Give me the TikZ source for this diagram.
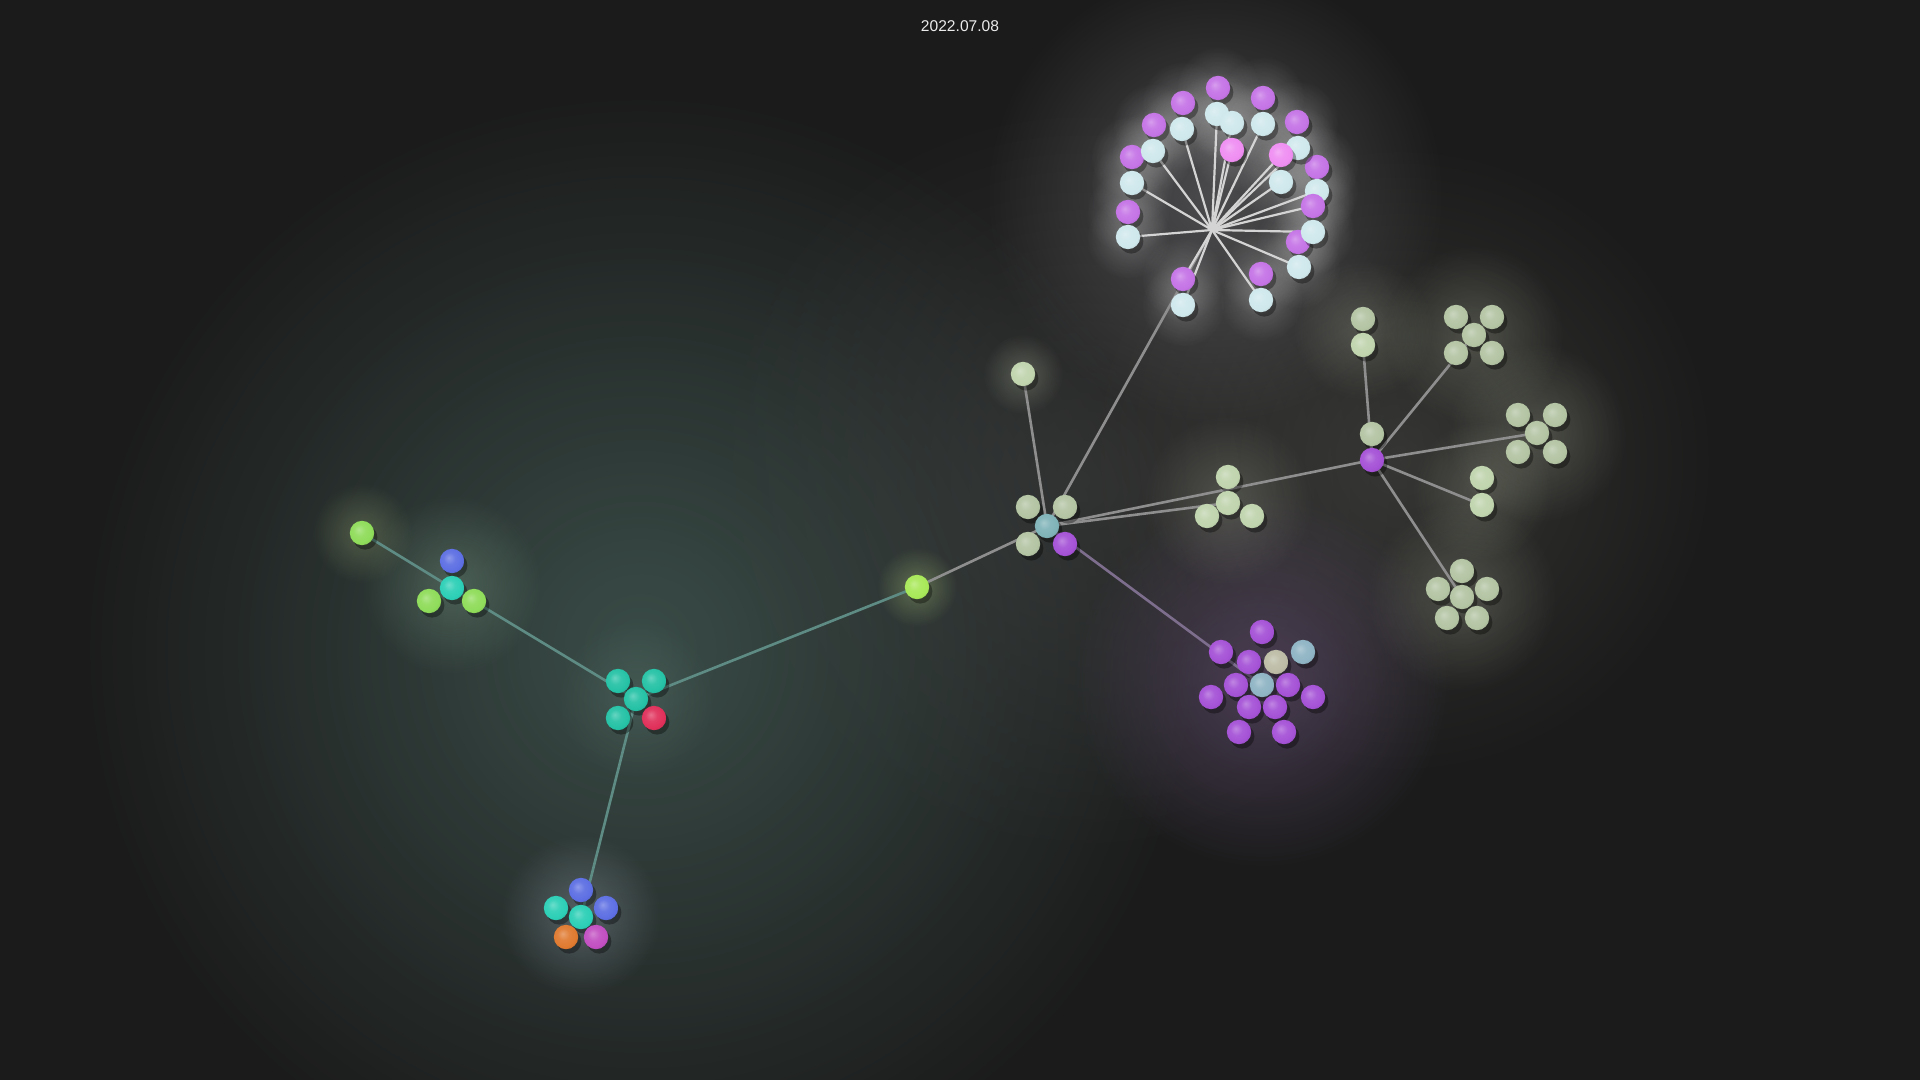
\documentclass[tikz,border=0pt]{standalone}
\usepackage{fontspec}
\setmainfont{Liberation Sans}
\usetikzlibrary{fadings}
\tikzfading[name=glowfade, inner color=transparent!0, outer color=transparent!100]
\pgfdeclarelayer{glowlayer}
\pgfdeclarelayer{edgelayer}
\pgfsetlayers{glowlayer,edgelayer,main}
\pgfdeclareradialshading[mballc]{mball}{\pgfqpoint{-7bp}{7bp}}{color(0bp)=(mballc!70!white); color(12bp)=(mballc!93!white); color(24bp)=(mballc); color(34bp)=(mballc!85!black); color(50bp)=(mballc!80!black)}
\definecolor{bgc}{HTML}{1B1B1B}
\definecolor{cPur}{HTML}{C574E6}
\definecolor{cLb}{HTML}{CFE8EC}
\definecolor{cPink}{HTML}{EF8EF2}
\definecolor{cSage}{HTML}{B3C4A3}
\definecolor{cPale}{HTML}{C0D4AE}
\definecolor{cHubC}{HTML}{7FB3B8}
\definecolor{cVio}{HTML}{A552D6}
\definecolor{cPLb}{HTML}{8FB4C4}
\definecolor{cBeige}{HTML}{BCBCA6}
\definecolor{cLime}{HTML}{8FDC5A}
\definecolor{cBlue}{HTML}{5D6FE3}
\definecolor{cTeal}{HTML}{2CCFB6}
\definecolor{cTeal2}{HTML}{25C2A6}
\definecolor{cRed}{HTML}{E0305A}
\definecolor{cOrange}{HTML}{E07A30}
\definecolor{cMag}{HTML}{C24FC2}
\definecolor{cYg}{HTML}{A8E858}
\definecolor{eTeal}{HTML}{5E8C84}
\definecolor{eGrey}{HTML}{8E8E8E}
\definecolor{eWhite}{HTML}{D4D4D4}
\definecolor{ePur}{HTML}{7E6E8E}
\definecolor{gTeal}{HTML}{4F6E66}
\definecolor{gGrey}{HTML}{444444}
\definecolor{gWarm}{HTML}{4A4A46}
\definecolor{gPur}{HTML}{5A4868}
\definecolor{gPale}{HTML}{D8E0C0}
\definecolor{gGreen}{HTML}{8FB89C}
\definecolor{gYel}{HTML}{C8D890}
\definecolor{gYg}{HTML}{D0F090}
\definecolor{gBlue}{HTML}{B8C4D8}
\definecolor{gTeal2}{HTML}{6E8A80}
\definecolor{gFlow}{HTML}{6A6A6E}
\tikzset{
  ballc/.code={\colorlet{mballc}{#1}},
  ball/.style={circle, inner sep=0pt, minimum size=12.2pt, ballc=#1, shade, shading=mball,
    preaction={fill=black, fill opacity=.35, transform canvas={shift={(1.6pt,-2.2pt)}}}},
  glow/.style={fill=#1, path fading=glowfade},
  edge/.style={line width=1.3pt, draw=#1},
}
\begin{document}
\begin{tikzpicture}[x=0.5pt,y=-0.5pt]
\useasboundingbox (0,0) rectangle (1920,1080);
\begin{pgfonlayer}{glowlayer}
  \fill[bgc] (0,0) rectangle (1920,1080);
  \fill[glow=gTeal, opacity=.6] (640,650) circle (560);
  \fill[glow=gGrey, opacity=.5] (1080,480) circle (380);
  \fill[glow=gWarm, opacity=.55] (1400,460) circle (320);
  \fill[glow=gPur, opacity=.7] (1262,680) circle (190);
  \fill[glow=gFlow, opacity=.6] (1215,195) circle (230);
  \fill[glow=gPale, opacity=.22] (1474,335) circle (90);
  \fill[glow=gPale, opacity=.22] (1537,433) circle (90);
  \fill[glow=gPale, opacity=.22] (1462,597) circle (95);
  \fill[glow=gPale, opacity=.2] (1482,490) circle (70);
  \fill[glow=gPale, opacity=.2] (1363,330) circle (70);
  \fill[glow=gPale, opacity=.2] (1228,500) circle (85);
  \fill[glow=gPale, opacity=.25] (1023,374) circle (40);
  \fill[glow=gGreen, opacity=.3] (452,585) circle (90);
  \fill[glow=gYel, opacity=.25] (362,533) circle (50);
  \fill[glow=gYg, opacity=.3] (917,587) circle (40);
  \fill[glow=gBlue, opacity=.3] (581,915) circle (80);
  \fill[glow=gTeal2, opacity=.25] (636,699) circle (80);
\end{pgfonlayer}

% left part
\node[ball=cLime] (lone) at (362,533) {};
\node[ball=cBlue] (l1) at (452,561) {};
\node[ball=cTeal] (lc) at (452,588) {};
\node[ball=cLime] (l2) at (429,601) {};
\node[ball=cLime] (l3) at (474,601) {};

\node[ball=cTeal2] (m1) at (618,681) {};
\node[ball=cTeal2] (m2) at (654,681) {};
\node[ball=cTeal2] (mc) at (636,699) {};
\node[ball=cTeal2] (m3) at (618,718) {};
\node[ball=cRed] (m4) at (654,718) {};

\node[ball=cBlue] (b1) at (581,890) {};
\node[ball=cTeal] (b2) at (556,908) {};
\node[ball=cBlue] (b3) at (606,908) {};
\node[ball=cTeal] (bc) at (581,917) {};
\node[ball=cOrange] (b4) at (566,937) {};
\node[ball=cMag] (b5) at (596,937) {};

\node[ball=cYg] (yg) at (917,587) {};

% hub
\node[ball=cPale] (tg) at (1023,374) {};
\node[ball=cSage] (h1) at (1028,507) {};
\node[ball=cSage] (h2) at (1065,507) {};
\node[ball=cSage] (h3) at (1028,544) {};
\node[ball=cHubC] (hc) at (1047,526) {};
\node[ball=cVio] (h4) at (1065,544) {};

% cluster near hub
\node[ball=cPale] (k1) at (1228,477) {};
\node[ball=cPale] (kc) at (1228,503) {};
\node[ball=cPale] (k2) at (1207,516) {};
\node[ball=cPale] (k3) at (1252,516) {};

% purple hub and satellites
\node[ball=cSage] (pa) at (1372,434) {};
\node[ball=cVio] (ph) at (1372,460) {};
\node[ball=cSage] (q1) at (1363,319) {};
\node[ball=cPale] (q2) at (1363,345) {};
\node[ball=cSage] (r1) at (1456,317) {};
\node[ball=cSage] (r2) at (1492,317) {};
\node[ball=cSage] (rc) at (1474,335) {};
\node[ball=cSage] (r3) at (1456,353) {};
\node[ball=cSage] (r4) at (1492,353) {};
\node[ball=cSage] (s1) at (1518,415) {};
\node[ball=cSage] (s2) at (1555,415) {};
\node[ball=cSage] (sc) at (1537,433) {};
\node[ball=cSage] (s3) at (1518,452) {};
\node[ball=cSage] (s4) at (1555,452) {};
\node[ball=cPale] (t1) at (1482,478) {};
\node[ball=cPale] (t2) at (1482,505) {};
\node[ball=cSage] (u1) at (1462,571) {};
\node[ball=cSage] (u2) at (1438,589) {};
\node[ball=cSage] (u3) at (1487,589) {};
\node[ball=cSage] (uc) at (1462,597) {};
\node[ball=cSage] (u4) at (1447,618) {};
\node[ball=cSage] (u5) at (1477,618) {};

% purple cluster
\node[ball=cVio] (v1) at (1262,632) {};
\node[ball=cVio] (v2) at (1221,652) {};
\node[ball=cPLb] (v3) at (1303,652) {};
\node[ball=cVio] (v4) at (1249,662) {};
\node[ball=cBeige] (v5) at (1276,662) {};
\node[ball=cVio] (v6) at (1236,685) {};
\node[ball=cPLb] (vc) at (1262,685) {};
\node[ball=cVio] (v7) at (1288,685) {};
\node[ball=cVio] (v8) at (1211,697) {};
\node[ball=cVio] (v9) at (1313,697) {};
\node[ball=cVio] (v10) at (1249,707) {};
\node[ball=cVio] (v11) at (1275,707) {};
\node[ball=cVio] (v12) at (1239,732) {};
\node[ball=cVio] (v13) at (1284,732) {};

% flower
\coordinate (fc) at (1212,230);
\node[ball=cPur] (p1) at (1218,88) {};
\node[ball=cPur] (p2) at (1183,103) {};
\node[ball=cPur] (p3) at (1263,98) {};
\node[ball=cPur] (p4) at (1154,125) {};
\node[ball=cPur] (p5) at (1297,122) {};
\node[ball=cPur] (p6) at (1132,157) {};
\node[ball=cPur] (p7) at (1317,167) {};
\node[ball=cPur] (p8) at (1128,212) {};
\node[ball=cPur] (p9) at (1298,242) {};
\node[ball=cPur] (p10) at (1261,274) {};
\node[ball=cPur] (p11) at (1183,279) {};
\node[ball=cLb] (w1) at (1217,114) {};
\node[ball=cLb] (w2) at (1182,129) {};
\node[ball=cLb] (w3) at (1263,124) {};
\node[ball=cLb] (w4) at (1153,151) {};
\node[ball=cLb] (w5) at (1298,148) {};
\node[ball=cLb] (w6) at (1132,183) {};
\node[ball=cLb] (w7) at (1317,191) {};
\node[ball=cLb] (w8) at (1128,237) {};
\node[ball=cLb] (w9) at (1299,267) {};
\node[ball=cLb] (w10) at (1261,300) {};
\node[ball=cLb] (w11) at (1183,305) {};
\node[ball=cLb] (w12) at (1232,123) {};
\node[ball=cPink] (k01) at (1232,150) {};
\node[ball=cPink] (k02) at (1281,155) {};
\node[ball=cLb] (w13) at (1281,182) {};
\node[ball=cPur] (p12) at (1313,206) {};
\node[ball=cLb] (w14) at (1313,232) {};

\begin{pgfonlayer}{glowlayer}
  \foreach \n in {p1,p2,p3,p4,p5,p6,p7,p8,p9,p10,p11,p12,w1,w2,w3,w4,w5,w6,w7,w8,w9,w10,w11,w12,w13,w14,k01,k02}
    \fill[glow=white, opacity=.2] (\n) circle (42);
\end{pgfonlayer}

\begin{pgfonlayer}{edgelayer}
  \draw[edge=eTeal] (lone.center) -- (lc.center);
  \draw[edge=eTeal] (lc.center) -- (mc.center);
  \draw[edge=eTeal] (mc.center) -- (yg.center);
  \draw[edge=eTeal] (mc.center) -- (bc.center);
  \draw[edge=eGrey] (yg.center) -- (hc.center);
  \draw[edge=eGrey] (hc.center) -- (tg.center);
  \draw[edge=eGrey] (hc.center) -- (fc);
  \draw[edge=eGrey] (hc.center) -- (kc.center);
  \draw[edge=eGrey] (hc.center) -- (ph.center);
  \draw[edge=ePur] (hc.center) -- (vc.center);
  \draw[edge=eGrey] (ph.center) -- (pa.center);
  \draw[edge=eGrey] (ph.center) -- (q2.center);
  \draw[edge=eGrey] (ph.center) -- (rc.center);
  \draw[edge=eGrey] (ph.center) -- (sc.center);
  \draw[edge=eGrey] (ph.center) -- (t2.center);
  \draw[edge=eGrey] (ph.center) -- (uc.center);
  \foreach \n in {w1,w2,w3,w4,w5,w6,w7,w8,w9,w10,w11,w12,w13,w14,k01,k02,p11,p12}
    \draw[edge=eWhite, line width=1.1pt] (fc) -- (\n.center);
\end{pgfonlayer}

\node[text=white!92!black, font=\fontsize{7.8pt}{9pt}\selectfont] (date) at (960,26) {2022.07.08};
\end{tikzpicture}
\end{document}
